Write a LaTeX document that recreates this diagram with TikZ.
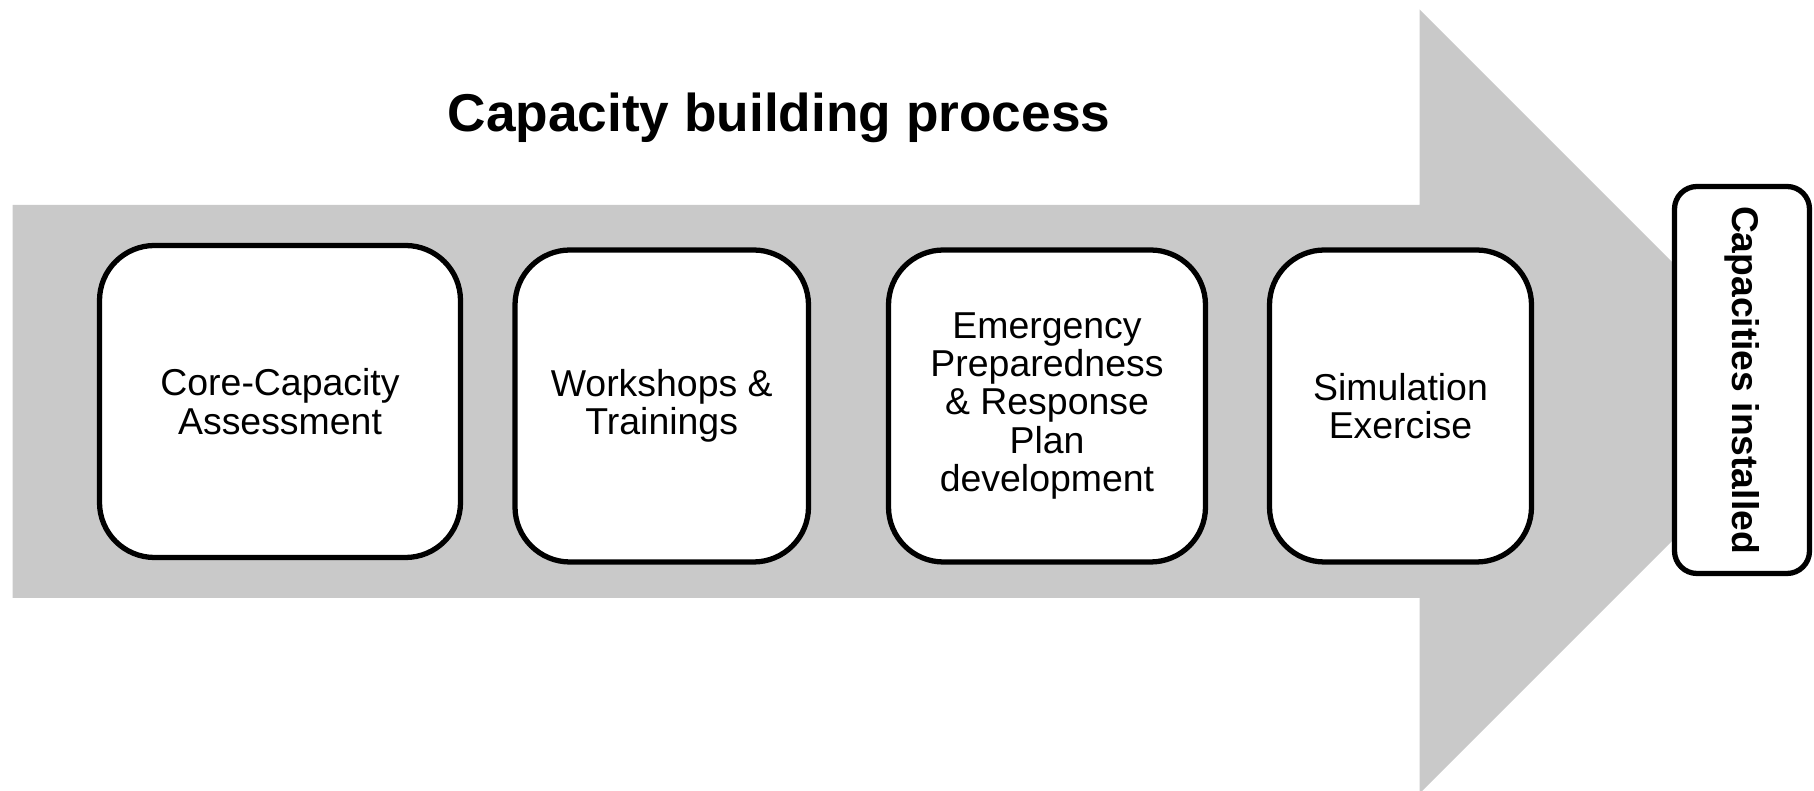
\documentclass[tikz,border=0pt]{standalone}
\usepackage{fontspec}
\setmainfont{Liberation Sans}
\usepackage{tikz}
\usetikzlibrary{arrows,shapes,calc,positioning}
\definecolor{shaftgray}{RGB}{201,201,201}
\tikzset{
  stage/.style={draw=black, line width=3pt, fill=white, rounded corners=1.1cm,
    align=center, inner sep=0pt, minimum height=6.24cm,
    font=\fontsize{21.3}{21.8}\selectfont},
  result/.style={draw=black, line width=3pt, fill=white, rounded corners=0.45cm,
    inner sep=0pt, minimum width=7.74cm, minimum height=2.7cm, rotate=-90,
    font=\fontsize{21.2}{22}\selectfont\bfseries}
}

\begin{document}
\begin{tikzpicture}
\useasboundingbox (0,0) rectangle (36.28,15.82);
% big grey process arrow
\coordinate (tail) at (0.254,7.79);
\coordinate (tip) at (36.23,7.79);
\fill[shaftgray] (0.254,3.86) -- (28.39,3.86) -- (28.39,-0.05) -- (tip)
  -- (28.39,15.63) -- (28.39,11.72) -- (0.254,11.72) -- cycle;
\node[font=\fontsize{30.3}{32}\selectfont\bfseries] (title) at (15.58,13.46) {Capacity building process};
% steps
\node[stage, minimum width=7.22cm] (assess) at (5.6,7.79) {Core-Capacity\\Assessment};
\node[stage, minimum width=5.87cm] (train) at (13.235,7.7) {Workshops \&\\Trainings};
\node[stage, minimum width=6.34cm] (plan) at (20.94,7.7) {Emergency\\Preparedness\\\& Response\\Plan\\development};
\node[stage, minimum width=5.24cm] (simex) at (28.01,7.7) {Simulation\\Exercise};
\node[result] (installed) at (34.84,8.22) {Capacities installed};
\end{tikzpicture}
\end{document}
